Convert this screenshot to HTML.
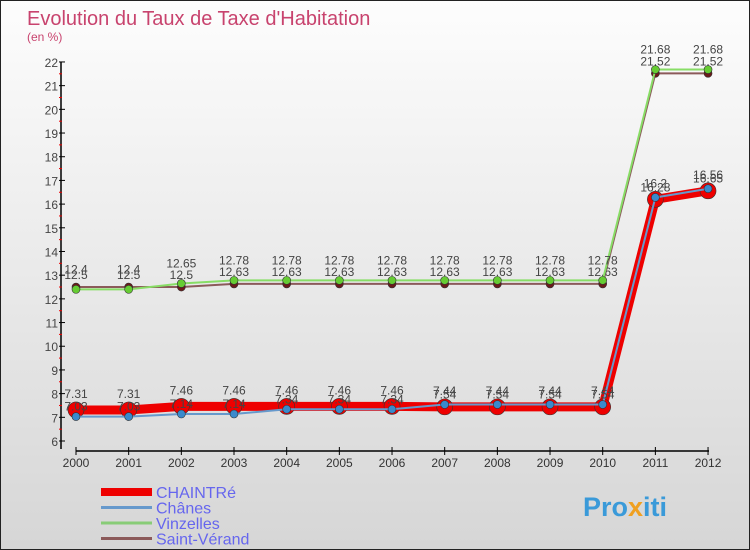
<!DOCTYPE html>
<html><head><meta charset="utf-8">
<style>
body{margin:0;}
#c{width:750px;height:550px;position:relative;box-sizing:border-box;border:1px solid #222;background:linear-gradient(#fdfdfd,#d6d6d6);font-family:"Liberation Sans",sans-serif;overflow:hidden}
svg text{font-family:"Liberation Sans",sans-serif}
</style></head><body>
<div id="c">
<svg id="s" width="750" height="550">
<text x="26" y="24" font-size="20" fill="#c8436e">Evolution du Taux de Taxe d'Habitation</text>
<text x="26" y="40" font-size="12" fill="#c8436e">(en %)</text>
<g id="axes"></g><g id="series"></g><g id="legend"></g>
<text x="582" y="515" font-size="27" font-weight="bold" fill="#3a9ad9">Pro<tspan fill="#f0a020">x</tspan>iti</text>
</svg>
</div>
<script>
const years=[2000,2001,2002,2003,2004,2005,2006,2007,2008,2009,2010,2011,2012];
const yTicks=[6,7,8,9,10,11,12,13,14,15,16,17,18,19,20,21,22];
const chaintre=[7.31,7.31,7.46,7.46,7.46,7.46,7.46,7.44,7.44,7.44,7.44,16.2,16.56];
const chanes=[7.03,7.03,7.14,7.14,7.34,7.34,7.34,7.54,7.54,7.54,7.54,16.28,16.65];
const vinzelles=[12.4,12.4,12.65,12.78,12.78,12.78,12.78,12.78,12.78,12.78,12.78,21.68,21.68];
const saintVerand=[12.5,12.5,12.5,12.63,12.63,12.63,12.63,12.63,12.63,12.63,12.63,21.52,21.52];
const names=["CHAINTRé","Chânes","Vinzelles","Saint-Vérand"];
const NS="http://www.w3.org/2000/svg";
const X=y=>75+(y-2000)*52.67;
const Y=v=>440-(v-6)*23.69;
function mk(t,a,p){const e=document.createElementNS(NS,t);for(const k in a)e.setAttribute(k,a[k]);p.appendChild(e);return e;}
const ax=document.getElementById('axes');
let e=mk('line',{x1:60,y1:Y(22),x2:60,y2:Y(6)+8,stroke:'#000','stroke-width':1.5},ax);

e=mk('line',{x1:75,y1:450,x2:708,y2:450,stroke:'#000','stroke-width':1.5},ax);

yTicks.forEach(v=>{
 mk('line',{x1:58,x2:64,y1:Y(v),y2:Y(v),stroke:'#000'},ax);
 if(v<22)mk('line',{x1:58,x2:61,y1:Y(v+0.5),y2:Y(v+0.5),stroke:'#e00'},ax);
 const t=mk('text',{x:57,y:Y(v)+5,'text-anchor':'end','font-size':12,fill:'#444'},ax);t.textContent=v;
 
});
years.forEach(y=>{
 mk('line',{x1:X(y),x2:X(y),y1:446,y2:454,stroke:'#000'},ax);
 const t=mk('text',{x:X(y),y:466,'text-anchor':'middle','font-size':12,fill:'#333'},ax);t.textContent=y;
 
});
const sg=document.getElementById('series');
const defs=[
 {d:saintVerand,c:'#8b5a5a',w:2,r:4,f:'#6b1a1a',n:'series-saint-verand',dy:-8},
 {d:vinzelles,c:'#88dd66',w:2,r:4,f:'#66cc33',n:'series-vinzelles',dy:-16},
 {d:chaintre,c:'#ee0000',w:9,r:8,f:'#ee0000',n:'series-chaintre',dy:-12},
 {d:chanes,c:'#6699cc',w:2,r:4,f:'#3a8acc',n:'series-chanes',dy:-6},
];
defs.forEach(s=>{
 const g=mk('g',{},sg);
 
 const pl=mk('polyline',{points:s.d.map((v,i)=>X(years[i])+','+Y(v)).join(' '),fill:'none',stroke:s.c,'stroke-width':s.w},g);
 
 s.d.forEach((v,i)=>{
  const c=mk('circle',{cx:X(years[i]),cy:Y(v),r:s.r,fill:s.f,stroke:'#333','stroke-width':0.6},g);
  
  const t=mk('text',{x:X(years[i]),y:Y(v)+s.dy,'text-anchor':'middle','font-size':12,fill:'#444'},g);
  t.textContent=v;
  
 });
});
const lg=document.getElementById('legend');
const lc=[['#ee0000',8],['#6699cc',3],['#88cc77',3],['#8b5a5a',3]];
names.forEach((n,i)=>{
 const y=491+i*15.5;
 const l=mk('line',{x1:100,x2:151,y1:y,y2:y,stroke:lc[i][0],'stroke-width':lc[i][1]},lg);
 
 const t=mk('text',{x:155,y:y+6,'font-size':16,fill:'#6666ee'},lg);t.textContent=n;
 
});
</script>
</body></html>
